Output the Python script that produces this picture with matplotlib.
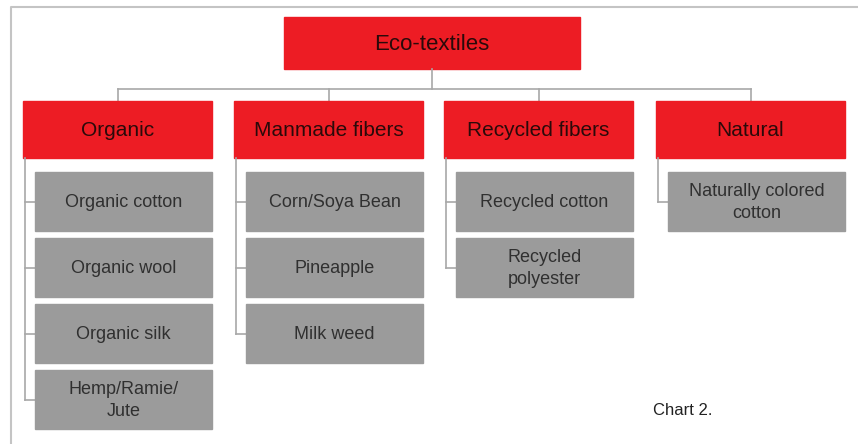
import matplotlib.pyplot as plt
from matplotlib.patches import Rectangle

plt.rcParams['font.family'] = ['Liberation Sans', 'DejaVu Sans']

# Datos del organigrama
root_label = "Eco-textiles"
categories = ["Organic", "Manmade fibers", "Recycled fibers", "Natural"]
children = [
    ["Organic cotton", "Organic wool", "Organic silk", "Hemp/Ramie/\nJute"],
    ["Corn/Soya Bean", "Pineapple", "Milk weed"],
    ["Recycled cotton", "Recycled\npolyester"],
    ["Naturally colored\ncotton"],
]
caption = "Chart 2."

RED = "#ed1c24"
GRAY = "#9b9b9b"
LINE = "#a8a8a8"

fig = plt.figure(figsize=(8.58, 4.44), dpi=100)
ax = fig.add_axes([0, 0, 1, 1])
ax.set_xlim(0, 858)
ax.set_ylim(444, 0)
ax.axis("off")

# Marco exterior
ax.plot([10.5, 10.5, 858], [444, 7.5, 7.5], color="#c4c4c4", lw=1.5)

# Nodo raíz
root_x0, root_x1, root_y0, root_y1 = 284, 580, 17, 69
ax.add_patch(Rectangle((root_x0, root_y0), root_x1 - root_x0, root_y1 - root_y0, color=RED, zorder=2))
ax.text((root_x0 + root_x1) / 2, (root_y0 + root_y1) / 2 + 1, root_label, ha="center", va="center",
        fontsize=16, color="#2a0a0a", zorder=3)

# Categorías
col_left = [23, 234, 444, 656]
col_w = 189
cat_y0, cat_y1 = 101, 158
bus_y = 89
centers = [x + col_w / 2 for x in col_left]

ax.plot([(root_x0 + root_x1) / 2] * 2, [root_y1, bus_y], color=LINE, lw=1.2)
ax.plot([centers[0], centers[-1]], [bus_y, bus_y], color=LINE, lw=1.2)

child_top = 172
child_step = 66
child_h = 59
inset = 12

for i, cat in enumerate(categories):
    x0 = col_left[i]
    cx = centers[i]
    ax.plot([cx, cx], [bus_y, cat_y0], color=LINE, lw=1.2)
    ax.add_patch(Rectangle((x0, cat_y0), col_w, cat_y1 - cat_y0, color=RED, zorder=2))
    ax.text(cx, (cat_y0 + cat_y1) / 2 + 1, cat, ha="center", va="center",
            fontsize=15, color="#2a0a0a", zorder=3)

    kids = children[i]
    tree_x = x0 + 1.5
    last_mid = child_top + (len(kids) - 1) * child_step + child_h / 2
    ax.plot([tree_x, tree_x], [cat_y1, last_mid], color=LINE, lw=1.2)
    for j, kid in enumerate(kids):
        ky = child_top + j * child_step
        kx = x0 + inset
        kw = col_w - inset
        ax.plot([tree_x, kx], [ky + child_h / 2] * 2, color=LINE, lw=1.2)
        ax.add_patch(Rectangle((kx, ky), kw, child_h, color=GRAY, zorder=2))
        ax.text(kx + kw / 2, ky + child_h / 2 + 1, kid, ha="center", va="center",
                fontsize=13, color="#303030", linespacing=1.4, zorder=3)

ax.text(653, 410, caption, ha="left", va="center", fontsize=12, color="#222222")

fig.savefig("out.png", dpi=100)
